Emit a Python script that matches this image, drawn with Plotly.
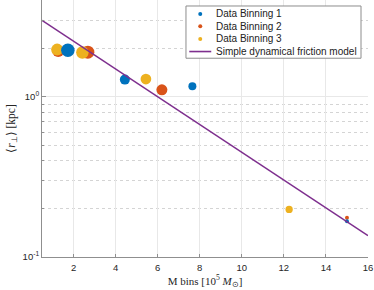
import plotly.graph_objects as go
import numpy as np

# ---- data ----
bin1_x = [1.73, 4.44, 7.65, 15.0]
bin1_y = [1.95, 1.28, 1.165, 0.167]
bin1_s = [13.5, 10, 8, 4]

bin2_x = [1.27, 2.68, 6.20, 15.0]
bin2_y = [1.93, 1.90, 1.105, 0.176]
bin2_s = [12, 13, 11, 4]

bin3_x = [1.22, 2.42, 5.44, 12.25]
bin3_y = [1.97, 1.89, 1.29, 0.198]
bin3_s = [12, 12.5, 10.7, 7.3]

model_x = [0.5, 16.0]
model_y = [3.0, 0.136]

names = ["Data Binning 1", "Data Binning 2", "Data Binning 3",
         "Simple dynamical friction model"]
colors = ["#0072BD", "#D95319", "#EDB120", "#7E2F8E"]

x_ticks = [2, 4, 6, 8, 10, 12, 14, 16]
y_ticks = [0.1, 1]
y_ticktext = ["10<sup>-1</sup>", "10<sup>0</sup>"]
y_minor = [0.2, 0.3, 0.4, 0.5, 0.6, 0.7, 0.8, 0.9, 2, 3, 4]

W, H = 374, 290
L, R, T, B = 41.5, 368.0, 0.0, 257.3

fig = go.Figure()
# draw order: binning 2, binning 3, binning 1, model line
for xs, ys, ss, nm, c in [(bin2_x, bin2_y, bin2_s, names[1], colors[1]),
                          (bin3_x, bin3_y, bin3_s, names[2], colors[2]),
                          (bin1_x, bin1_y, bin1_s, names[0], colors[0])]:
    fig.add_trace(go.Scatter(x=xs, y=ys, mode="markers", name=nm,
                             marker=dict(size=ss, color=c, opacity=1, line=dict(width=0)),
                             showlegend=False))
fig.add_trace(go.Scatter(x=model_x, y=model_y, mode="lines", name=names[3],
                         line=dict(color=colors[3], width=1.5), showlegend=False))

# ---- custom legend (MATLAB-style compact box) ----
def px(xp):
    return (xp - L) / (R - L)

def py(yp):
    return (B - yp) / (B - T)

shapes = [dict(type="rect", xref="paper", yref="paper",
               x0=px(185.7), x1=px(361), y0=py(58.3), y1=py(6),
               line=dict(color="#8c8c8c", width=1), fillcolor="white", layer="above")]
annotations = []
rows = [14, 26.4, 39, 51.6]
for i, (nm, c) in enumerate(zip(names, colors)):
    yy = py(rows[i])
    if i < 3:
        shapes.append(dict(type="circle", xref="paper", yref="paper",
                           xsizemode="pixel", ysizemode="pixel",
                           xanchor=px(200), yanchor=yy, x0=-2, x1=2, y0=-2, y1=2,
                           fillcolor=c, line=dict(width=0), layer="above"))
    else:
        shapes.append(dict(type="line", xref="paper", yref="paper",
                           x0=px(189), x1=px(211), y0=yy, y1=yy,
                           line=dict(color=c, width=1.6), layer="above"))
    annotations.append(dict(text=nm, xref="paper", yref="paper", x=px(213.5), y=yy,
                            xanchor="left", yanchor="middle", showarrow=False,
                            font=dict(family="Liberation Sans", size=10, color="#222")))

axis_col = "#8f8f8f"
fig.update_layout(
    width=W, height=H,
    margin=dict(l=L, r=W - R, t=T, b=H - B),
    paper_bgcolor="white", plot_bgcolor="white",
    showlegend=False,
    shapes=shapes, annotations=annotations,
    font=dict(family="Liberation Sans", size=9.5, color="#262626"),
    xaxis=dict(range=[0.5, 16], tickmode="array", tickvals=x_ticks,
               ticks="inside", ticklen=3, tickcolor=axis_col, ticklabelstandoff=2,
               showline=True, linecolor=axis_col, linewidth=1, mirror=False,
               showgrid=True, gridcolor="#e8e8e8", gridwidth=1, zeroline=False,
               title=dict(text="M bins [10<sup>5</sup> <i>M</i><sub>⊙</sub>]",
                          font=dict(family="Liberation Serif", size=11, color="#262626"),
                          standoff=3),
               automargin=False),
    yaxis=dict(type="log", range=[-1, np.log10(4.02)], tickmode="array",
               tickvals=y_ticks, ticktext=y_ticktext,
               ticks="inside", ticklen=4, tickcolor=axis_col,
               showline=True, linecolor=axis_col, linewidth=1, mirror=False,
               showgrid=True, gridcolor="#e8e8e8", gridwidth=1, zeroline=False,
               minor=dict(tickmode="array", tickvals=y_minor, ticks="inside", ticklen=2,
                          tickcolor=axis_col, showgrid=True, griddash="dot",
                          gridcolor="#d4d4d4", gridwidth=1),
               title=dict(text="⟨<i>r</i><sub>⊥</sub>⟩ [kpc]",
                          font=dict(family="Liberation Serif", size=11.5, color="#262626"),
                          standoff=4),
               automargin=False),
)

fig.write_html("out.html",
               config={"displayModeBar": False},
               post_script="document.body.style.margin='0';document.body.style.padding='0';")
